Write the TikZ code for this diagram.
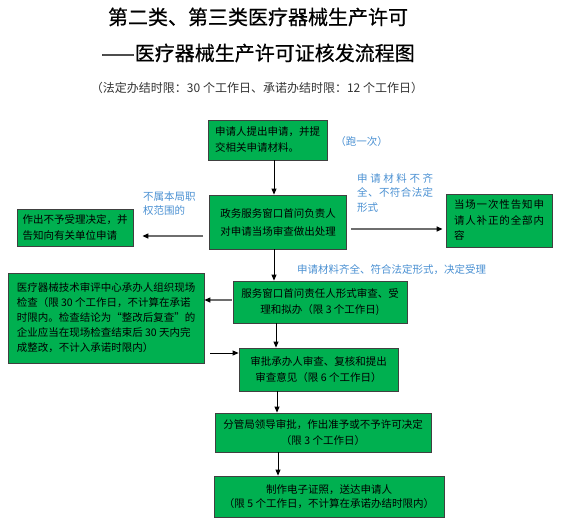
\documentclass[tikz,border=0pt]{standalone}
\usepackage{fontspec}
\setmainfont{Noto Sans CJK SC}
\newfontfamily\titlefont[FakeBold=0.6]{Noto Sans CJK SC}
\usetikzlibrary{arrows.meta}
\definecolor{BoxGreen}{HTML}{00B050}
\definecolor{Edge}{HTML}{404040}
\definecolor{NoteBlue}{HTML}{4A90D2}
\definecolor{LineGray}{HTML}{6E6E6E}
\tikzset{stepbox/.style={draw=Edge,fill=BoxGreen,line width=.8pt,inner sep=2pt,align=center,font=\fontsize{10.5}{16}\selectfont},note/.style={text=NoteBlue,inner sep=0pt,align=left,font=\fontsize{10.5}{14.5}\selectfont},flow/.style={-{Triangle[length=6pt,width=5pt,color=black]},line width=.8pt,draw=black},sideflow/.style={flow,draw=LineGray,line width=1.2pt}}
\begin{document}
\begin{tikzpicture}[x=1pt,y=-1pt]
      \useasboundingbox (0,0) rectangle (562,522);
      \node[font=\titlefont\fontsize{20}{24}\selectfont](title)at(258,17){第二类、第三类医疗器械生产许可};
      \node[font=\titlefont\fontsize{20}{24}\selectfont](subtitle)at(258,53){——医疗器械生产许可证核发流程图};
      \node[font=\fontsize{12}{14}\selectfont,text=black!80](limits)at(257,88){（法定办结时限：30 个工作日、承诺办结时限：12 个工作日）};
      \node[stepbox,align=left,minimum width=119pt,minimum height=40pt](apply)at(267.5,140){申请人提出申请，并提\\交相关申请材料。};
      \node[stepbox,minimum width=137pt,minimum height=54pt,font=\fontsize{10.5}{18}\selectfont](window)at(278,222){政务服务窗口首问负责人\\对申请当场审查做出处理};
      \node[stepbox,align=left,minimum width=106pt,minimum height=53pt,font=\fontsize{10.5}{15.5}\selectfont](notify)at(499,220.5){\hbox to 90pt{当\hfil 场\hfil 一\hfil 次\hfil 性\hfil 告\hfil 知\hfil 申}\\\hbox to 90pt{请\hfil 人\hfil 补\hfil 正\hfil 的\hfil 全\hfil 部\hfil 内}\\容};
      \node[stepbox,align=left,minimum width=116pt,minimum height=37pt](reject)at(75,227.5){作出不予受理决定，并\\告知向有关单位申请};
      \node[stepbox,minimum width=174pt,minimum height=42pt](formal)at(320,302){服务窗口首问责任人形式审查、受\\理和拟办（限 3 个工作日)};
      \node[stepbox,align=left,minimum width=196pt,minimum height=90pt,font=\fontsize{10.5}{15}\selectfont](tech)at(106,318){医疗器械技术审评中心承办人组织现场\\检查（限 30 个工作日，不计算在承诺\\时限内。检查结论为“整改后复查”的\\企业应当在现场检查结束后 30 天内完\\成整改，不计入承诺时限内）};
      \node[stepbox,minimum width=159pt,minimum height=43pt](review)at(318.5,369.5){审批承办人审查、复核和提出\\审查意见（限 6 个工作日）};
      \node[stepbox,minimum width=216pt,minimum height=39pt](leader)at(323,432.5){分管局领导审批，作出准予或不予许可决定\\（限 3 个工作日）};
      \node[stepbox,minimum width=230pt,minimum height=41pt,font=\fontsize{10.5}{14.5}\selectfont](cert)at(329,496.5){制作电子证照，送达申请人\\（限 5 个工作日，不计算在承诺办结时限内）};
      % notes beside the arrows
      \node[note](once)at(361.5,142){（跑一次）};
      \node[note,anchor=north west](incomplete)at(357,173){\hbox to 76pt{申\hfil 请\hfil 材\hfil 料\hfil 不\hfil 齐}\\\hbox to 76pt{全\hfil 、\hfil 不\hfil 符\hfil 合\hfil 法\hfil 定}\\形式};
      \node[note,anchor=north west](outside)at(143,191){不属本局职\\权范围的};
      \node[note,anchor=west](complete)at(297,270){申请材料齐全、符合法定形式，决定受理};
      % connectors
      \draw[flow]([xshift=6.5pt]apply.south)--([xshift=-4pt]window.north);
      \draw[sideflow]([xshift=4pt,yshift=-7pt]window.east)--([xshift=-3pt,yshift=-8.5pt]notify.west);
      \draw[sideflow]([xshift=-6pt,yshift=-14pt]window.west)--([xshift=9pt,yshift=-8.5pt]reject.east);
      \draw[flow]([xshift=-4pt]window.south)--([xshift=-46pt]formal.north);
      \draw[sideflow]([xshift=-1pt,yshift=2pt]formal.west)--([yshift=18pt]tech.east);
      \draw[flow]([xshift=6pt,yshift=-35pt]tech.east)--([yshift=16.5pt]review.west);
      \draw[flow]([xshift=-44pt]formal.south)--([xshift=-42.5pt]review.north);
      \draw[flow]([xshift=-41.5pt]review.south)--([xshift=-46pt]leader.north);
      \draw[flow]([xshift=-45pt]leader.south)--([xshift=-51pt]cert.north);
    \end{tikzpicture}
\end{document}
